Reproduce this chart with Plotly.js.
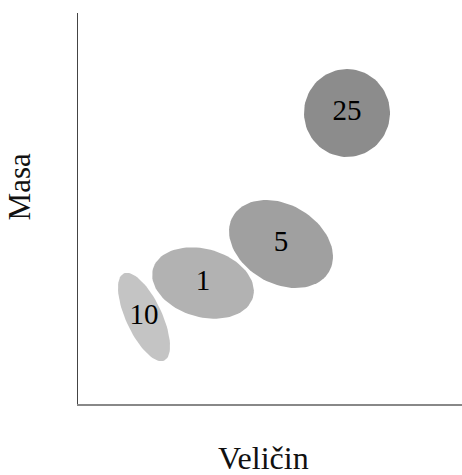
<!DOCTYPE html>
<html>
<head>
<meta charset="utf-8">
<script src="https://cdn.plot.ly/plotly-3.0.1.min.js"></script>
<style>html,body{margin:0;padding:0;background:#fff;}#chart{width:462px;height:475px;}</style>
</head>
<body>
<div id="chart"></div>
<script>
// Group labels (sample sizes)
var labels = ["10", "1", "5", "25"];
// Ellipse centres (Veličin, Masa)
var centerX = [66, 125, 203, 269];
var centerY = [87, 121, 160, 291];
// Semi-axes and orientation (degrees)
var semiMajor = [48, 52, 55.5, 44];
var semiMinor = [18, 34, 39.5, 43];
var angleDeg = [115, -16, -30, 90];
var fills = ["#c4c4c4", "#b2b2b2", "#a0a0a0", "#8c8c8c"];
var xTitle = "Veličin";
var yTitle = "Masa";

var serif = "Liberation Serif, Times New Roman, serif";
var traces = [];
for (var i = 0; i < labels.length; i++) {
  var th = angleDeg[i] * Math.PI / 180, xs = [], ys = [];
  for (var k = 0; k <= 90; k++) {
    var t = 2 * Math.PI * k / 90;
    var u = semiMajor[i] * Math.cos(t), v = semiMinor[i] * Math.sin(t);
    xs.push(centerX[i] + u * Math.cos(th) - v * Math.sin(th));
    ys.push(centerY[i] + u * Math.sin(th) + v * Math.cos(th));
  }
  traces.push({x: xs, y: ys, mode: "lines", fill: "toself", fillcolor: fills[i],
    line: {width: 0, color: fills[i]}, hoverinfo: "skip", showlegend: false});
}
traces.push({x: centerX, y: centerY, mode: "text", text: labels,
  textfont: {family: serif, size: 29, color: "#000"},
  hoverinfo: "skip", showlegend: false});

var layout = {
  width: 462, height: 475,
  margin: {l: 78, r: 0, t: 13, b: 71},
  paper_bgcolor: "#fff", plot_bgcolor: "#fff",
  showlegend: false,
  xaxis: {range: [0, 384], showgrid: false, zeroline: false, showticklabels: false, ticks: "",
    showline: true, linecolor: "#888", linewidth: 1.5},
  yaxis: {range: [0, 391], showgrid: false, zeroline: false, showticklabels: false, ticks: "",
    showline: true, linecolor: "#444", linewidth: 1.5},
  annotations: [
    {text: xTitle, xref: "paper", yref: "paper", x: 0.482, y: -0.137, xanchor: "center", yanchor: "middle",
      showarrow: false, font: {family: serif, size: 32, color: "#111"}},
    {text: yTitle, xref: "paper", yref: "paper", x: -0.15, y: 0.555, xanchor: "center", yanchor: "middle",
      textangle: -90, showarrow: false, font: {family: serif, size: 31, color: "#111"}}
  ]
};
Plotly.newPlot("chart", traces, layout, {displayModeBar: false, staticPlot: true});
</script>
</body>
</html>
